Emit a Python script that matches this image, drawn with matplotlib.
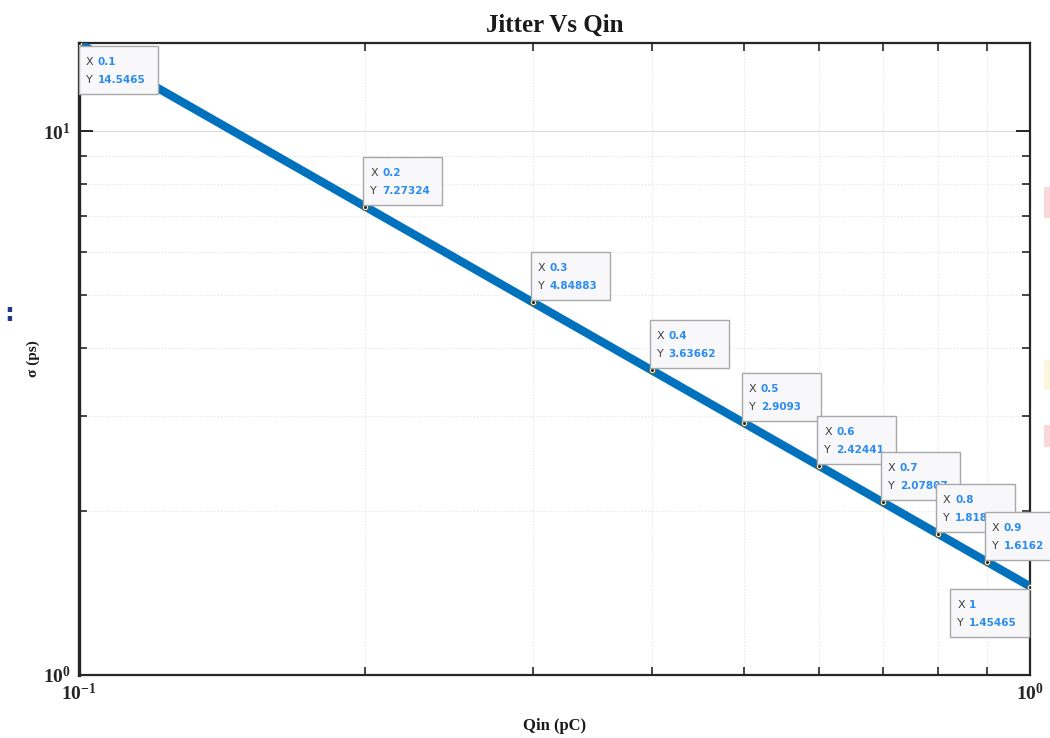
import numpy as np
import matplotlib
matplotlib.use("Agg")
from matplotlib import pyplot as plt
from matplotlib import transforms
from matplotlib.patches import Rectangle
from matplotlib.ticker import FixedLocator, NullFormatter

qin = [0.1, 0.2, 0.3, 0.4, 0.5, 0.6, 0.7, 0.8, 0.9, 1.0]
sigma = [14.5465, 7.27324, 4.84883, 3.63662, 2.9093, 2.42441, 2.07807, 1.81831, 1.6162, 1.45465]
x_tips = ["0.1", "0.2", "0.3", "0.4", "0.5", "0.6", "0.7", "0.8", "0.9", "1"]
y_tips = ["14.5465", "7.27324", "4.84883", "3.63662", "2.9093", "2.42441", "2.07807", "1.81831", "1.6162", "1.45465"]

plt.rcParams['mathtext.fontset'] = 'custom'
plt.rcParams['mathtext.rm'] = 'Liberation Serif:bold'
plt.rcParams['mathtext.bf'] = 'Liberation Serif:bold'

fig = plt.figure(figsize=(10.5, 7.38), dpi=100)
ax = fig.add_axes([0.0752, 0.0854, 0.906, 0.8563])

ax.plot(qin, sigma, color="#0072BD", linewidth=6, solid_capstyle='butt', zorder=3)
ax.plot(qin, sigma, linestyle='none', marker='o', markersize=4.5,
        markerfacecolor='white', markeredgecolor='#5a6a3a', markeredgewidth=0.8, zorder=4)
ax.plot(qin, sigma, linestyle='none', marker='o', markersize=1.2,
        color='#202020', zorder=5)

ax.set_xscale('log')
ax.set_yscale('log')
ax.set_xlim(0.1, 1)
ax.set_ylim(1, 14.5465)

ax.xaxis.set_major_locator(FixedLocator([0.1, 1]))
ax.yaxis.set_major_locator(FixedLocator([1, 10]))
ax.xaxis.set_minor_locator(FixedLocator(np.arange(2, 10) / 10))
ax.yaxis.set_minor_locator(FixedLocator(list(range(2, 10))))
ax.xaxis.set_minor_formatter(NullFormatter())
ax.yaxis.set_minor_formatter(NullFormatter())
ax.set_xticklabels([r'$\mathbf{10^{-1}}$', r'$\mathbf{10^{0}}$'])
ax.set_yticklabels([r'$\mathbf{10^{0}}$', r'$\mathbf{10^{1}}$'])

ax.tick_params(which='both', direction='in', top=True, right=True, colors='#262626',
               labelsize=14, labelcolor='#262626')
ax.tick_params(which='major', length=10, width=1.4, pad=6)
ax.tick_params(which='minor', length=6, width=1.2)
for sp in ax.spines.values():
    sp.set_linewidth(1.6)
    sp.set_color('#262626')
ax.spines['left'].set_linewidth(2.4)

ax.grid(True, which='major', color='#dcdcdc', linewidth=0.8, linestyle='-')
ax.grid(True, which='minor', color='#e2e2e2', linewidth=0.8, linestyle=':')
ax.set_axisbelow(True)

ax.set_title("Jitter Vs Qin", family='Liberation Serif', fontweight='bold',
             fontsize=18, color='#1a1a1a', pad=8)
ax.set_xlabel("Qin (pC)", family='Liberation Serif', fontweight='bold',
              fontsize=12, color='#1a1a1a', labelpad=10)
ax.set_ylabel("σ (ps)", family='Liberation Serif', fontweight='bold',
              fontsize=11, color='#1a1a1a', labelpad=2)

# data tips: offset (pixels) of the box lower-left corner from the point
box_w, box_h = 79, 48
offsets = [(0, -51)] + [(-2, 2)] * 8 + [(-80, -50)]
for i, (xv, yv) in enumerate(zip(qin, sigma)):
    dx, dy = offsets[i]
    tr = transforms.IdentityTransform() + transforms.ScaledTranslation(xv, yv, ax.transData)
    z = 10 + i
    ax.add_patch(Rectangle((dx, dy), box_w, box_h, transform=tr, facecolor='#f8f8fb',
                           edgecolor='#a8a8a8', linewidth=1.0, clip_on=False, zorder=z))
    ax.text(dx + 7, dy + 32, "X", transform=tr, fontsize=8, color='#404040',
            family='DejaVu Sans', va='center', clip_on=False, zorder=z)
    ax.text(dx + 19, dy + 32, x_tips[i], transform=tr, fontsize=7.5, color='#2b8cf0',
            family='DejaVu Sans', fontweight='bold', va='center', clip_on=False, zorder=z)
    ax.text(dx + 7, dy + 14, "Y", transform=tr, fontsize=8, color='#404040',
            family='DejaVu Sans', va='center', clip_on=False, zorder=z)
    ax.text(dx + 19, dy + 14, y_tips[i], transform=tr, fontsize=7.5, color='#2b8cf0',
            family='DejaVu Sans', fontweight='bold', va='center', clip_on=False, zorder=z)

# stray marks around the screenshot edges
fig.text(0.004, 0.565, ":", color='#1f3a8a', fontsize=18, fontweight='bold')
for y0, y1, c in [(187, 218, '#f9d7da'), (360, 390, '#fdf6dc'), (425, 447, '#f9d7da')]:
    fig.patches.append(Rectangle((1044 / 1050, 1 - y1 / 738), 6 / 1050, (y1 - y0) / 738,
                                 transform=fig.transFigure, facecolor=c, edgecolor='none'))

fig.savefig("out.png", dpi=100)
